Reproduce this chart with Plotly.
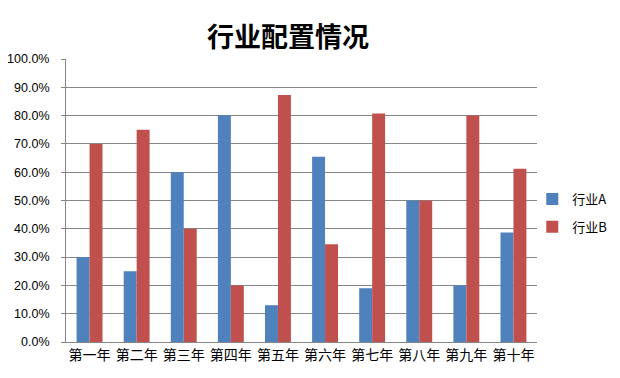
import plotly.graph_objects as go

categories = ["第一年", "第二年", "第三年", "第四年", "第五年", "第六年", "第七年", "第八年", "第九年", "第十年"]
industry_a = [0.30, 0.25, 0.60, 0.80, 0.13, 0.655, 0.19, 0.50, 0.20, 0.387]
industry_b = [0.70, 0.75, 0.40, 0.20, 0.873, 0.345, 0.807, 0.50, 0.80, 0.612]
tick_vals = [i / 10 for i in range(11)]
tick_text = [f"{v*100:.1f}%" for v in tick_vals]

cjk = "Noto Sans CJK SC"
fig = go.Figure()
fig.add_bar(x=categories, y=industry_a, name="行业A", marker_color="#4F81BD",
            marker_line_width=0, legendgroup="a")
fig.add_bar(x=categories, y=industry_b, name="行业B", marker_color="#C0504D",
            marker_line_width=0, legendgroup="b")

# page has an 8px body margin, so the figure is 612x370 placed at (8,8)
fig.update_layout(
    width=612, height=370,
    margin=dict(l=58, r=83, t=51, b=36, autoexpand=False),
    paper_bgcolor="white", plot_bgcolor="white",
    barmode="group", bargap=0.45, bargroupgap=0,
    title=dict(text="<b>行业配置情况</b>", x=280/612, xanchor="center", xref="container",
               y=1 - 30/370, yanchor="middle", yref="container",
               font=dict(family=cjk, size=27, color="black")),
    legend=dict(x=0.99, y=0.456, xanchor="left", yanchor="middle",
                font=dict(family=cjk, size=13, color="black"),
                itemwidth=30, tracegroupgap=8, bgcolor="rgba(0,0,0,0)"),
    showlegend=True,
)
fig.update_yaxes(range=[0, 1.0], tickvals=tick_vals, ticktext=tick_text,
                 showgrid=True, gridcolor="#868686", gridwidth=1,
                 showline=True, linecolor="#868686", linewidth=1,
                 ticks="outside", ticklen=4, tickcolor="#868686",
                 ticklabelstandoff=9,
                 tickfont=dict(family="Liberation Sans", size=12.5, color="black"),
                 zeroline=False, automargin=False)
fig.update_xaxes(showline=True, linecolor="#868686", linewidth=1,
                 tickfont=dict(family=cjk, size=14, color="black"),
                 ticks="", showgrid=False, automargin=False)

fig.write_html("out.html")
